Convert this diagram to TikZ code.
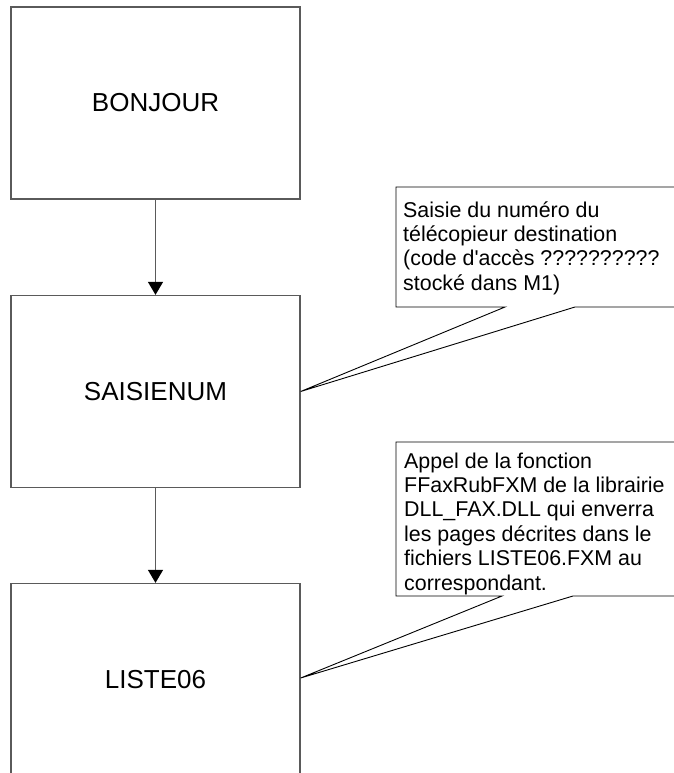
\documentclass[tikz,border=0pt]{standalone}
\usepackage{fontspec}
\setmainfont{Liberation Sans}
\usetikzlibrary{arrows.meta}
\definecolor{boxline}{HTML}{5A5A5A}
\tikzset{
  stepbox/.style={draw=boxline, line width=1.3pt, fill=white, minimum width=289pt, minimum height=192pt, inner sep=0pt, font=\fontsize{26}{30}\selectfont},
  flow/.style={draw=boxline, line width=1.3pt, -{Triangle[width=15pt,length=13pt,black]}},
  callout/.style={draw=black, line width=0.9pt, fill=white},
  notetext/.style={anchor=base west, inner sep=0pt}
}
\newcommand{\notebox}[1]{\parbox[t]{268pt}{\fontsize{21.4}{24.4}\selectfont\raggedright #1}}
\begin{document}
\begin{tikzpicture}[x=1pt,y=-1pt]
\useasboundingbox (0,0) rectangle (674,773);
\begin{scope}
\clip (0,0) rectangle (674,773);
\node[stepbox] (b1) at (155.5,103) {BONJOUR};
\node[stepbox] (b2) at (155.5,391.5) {SAISIENUM};
\node[stepbox] (b3) at (155.5,679.5) {LISTE06};
\draw[flow] (b1.south) -- (b2.north);
\draw[flow] (b2.south) -- (b3.north);
% callout 1
\coordinate (t1) at (b2.east);
\draw[callout] (690,187) -- (396,187) -- (396,307) -- (505,307) -- (t1) -- (575,307) -- (690,307);
\node[notetext] (n1) at (403,217) {\notebox{Saisie du numéro du\\télécopieur destination\\(code d\textquotesingle accès ??????????\\stocké dans M1)}};
% callout 2
\coordinate (t2) at ([yshift=1.5pt]b3.east);
\draw[callout] (690,442) -- (396,442) -- (396,596) -- (502,596) -- (t2) -- (573,596) -- (690,596);
\node[notetext] (n2) at (404,468) {\notebox{Appel de la fonction\\FFaxRubFXM de la librairie\\DLL\_FAX.DLL qui enverra\\les pages décrites dans le\\fichiers LISTE06.FXM au\\correspondant.}};
\end{scope}
\end{tikzpicture}
\end{document}
